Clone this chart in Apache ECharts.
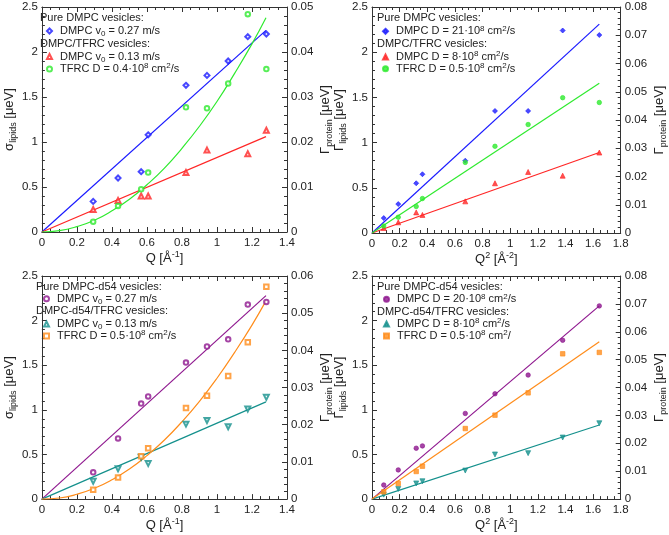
<!DOCTYPE html>
<html><head><meta charset="utf-8">
<script src="https://cdn.jsdelivr.net/npm/echarts@6/dist/echarts.min.js"></script>
<style>html,body{margin:0;padding:0;background:#fff}#c{width:669px;height:535px}</style>
</head><body><div id="c"></div>
<script>
// ---------- data ----------
const Q  = [0.293, 0.435, 0.567, 0.607, 0.823, 0.943, 1.064, 1.176, 1.282];
const Q2 = [0.085, 0.19, 0.32, 0.365, 0.675, 0.89, 1.13, 1.38, 1.645];

// panel 1 (sigma vs Q)
const p1Blue  = [0.34, 0.60, 0.67, 1.08, 1.63, 1.74, 1.90, 2.17, 2.20];
const p1Red   = [0.25, 0.35, 0.40, 0.40, 0.66, 0.91, null, 0.87, 1.13];
const p1Green = [0.0023, 0.0058, 0.0095, 0.0132, 0.0277, 0.0275, 0.0330, 0.0484, 0.0362];
const p1LineX = [0, 1.28];
const p1BlueLine = [0, 2.24];
const p1RedLine  = [0, 1.06];
const curveX = [0, 0.1, 0.2, 0.3, 0.4, 0.5, 0.6, 0.7, 0.8, 0.9, 1.0, 1.1, 1.2, 1.28];
const p1GreenCurve = [0, 0.0003, 0.0012, 0.0026, 0.0047, 0.0073, 0.0105, 0.0142, 0.0186, 0.0235, 0.0290, 0.0352, 0.0418, 0.0476];

// panel 2 (Gamma vs Q^2)
const p2Blue  = [0.165, 0.32, 0.55, 0.65, 0.80, 1.35, 1.35, 2.24, 2.19];
const p2Red   = [0.055, 0.118, 0.228, 0.20, 0.35, 0.55, 0.675, 0.634, 0.89];
const p2Green = [0.0025, 0.0056, 0.0094, 0.0122, 0.0250, 0.0307, 0.0384, 0.0479, 0.0462];
const p2LineX = [0, 1.645];
const p2BlueLine  = [0, 2.31];
const p2RedLine   = [0, 0.89];
const p2GreenLine = [0, 0.053];

// panel 3 (sigma vs Q, d54)
const p3Purple = [0.30, 0.68, 1.07, 1.15, 1.53, 1.71, 1.79, 2.18, 2.21];
const p3Teal   = [0.20, 0.34, 0.47, 0.40, 0.84, 0.88, 0.81, 1.01, 1.14];
const p3Orange = [0.0025, 0.0058, 0.0115, 0.0137, 0.0245, 0.0278, 0.0331, 0.0422, 0.0571];
const p3LineX = [0, 1.28];
const p3PurpleLine = [0, 2.28];
const p3TealLine   = [0, 1.09];
const p3OrangeCurve = [0, 0.0003, 0.0013, 0.0029, 0.0052, 0.0081, 0.0117, 0.0159, 0.0208, 0.0263, 0.0325, 0.0394, 0.0468, 0.0533];

// panel 4 (Gamma vs Q^2, d54)
const p4Purple = [0.158, 0.327, 0.57, 0.596, 0.96, 1.18, 1.39, 1.78, 2.165];
const p4Teal   = [0.05, 0.114, 0.176, 0.20, 0.32, 0.50, 0.515, 0.69, 0.85];
const p4Orange = [0.0026, 0.0056, 0.0099, 0.0118, 0.0253, 0.0301, 0.0381, 0.0521, 0.0526];
const p4LineX = [0, 1.645];
const p4PurpleLine = [0, 2.165];
const p4TealLine   = [0, 0.83];
const p4OrangeLine = [0, 0.0564];

// tick ranges
const xMaxQ = 1.4, xMaxQ2 = 1.8, yLeftMax = 2.5;
const rightMax = [0.05, 0.08, 0.06, 0.08];

// labels
const legendText = {
  p1a: 'DMPC v{sub|0} = 0.27 m/s',
  p1b: 'DMPC v{sub|0} = 0.13 m/s',
  p1c: 'TFRC D = 0.4·10{sup|8} cm{sup|2}/s',
  p2a: 'DMPC D = 21·10{sup|8} cm{sup|2}/s',
  p2b: 'DMPC D = 8·10{sup|8} cm{sup|2}/s',
  p2c: 'TFRC D = 0.5·10{sup|8} cm{sup|2}/s',
  p3a: 'DMPC v{sub|0} = 0.27 m/s',
  p3b: 'DMPC v{sub|0} = 0.13 m/s',
  p3c: 'TFRC D = 0.5·10{sup|8} cm{sup|2}/s',
  p4a: 'DMPC D = 20·10{sup|8} cm{sup|2}/s',
  p4b: 'DMPC D = 8·10{sup|8} cm{sup|2}/s',
  p4c: 'TFRC D = 0.5·10{sup|8} cm{sup|2}/'
};
const headers = [
  ['Pure DMPC vesicles:', 'DMPC/TFRC vesicles:'],
  ['Pure DMPC vesicles:', 'DMPC/TFRC vesicles:'],
  ['Pure DMPC-d54 vesicles:', 'DMPC-d54/TFRC vesicles:'],
  ['Pure DMPC-d54 vesicles:', 'DMPC-d54/TFRC vesicles:']
];
const xNames = ['Q [Å{sup|-1}]', 'Q{sup|2} [Å{sup|-2}]', 'Q [Å{sup|-1}]', 'Q{sup|2} [Å{sup|-2}]'];
const leftNames = ['σ{sub|lipids} [μeV]', 'Γ{sub|lipids} [μeV]', 'σ{sub|lipids} [μeV]', 'Γ{sub|lipids} [μeV]'];
const rightName = 'Γ{sub|protein} [μeV]';

// ---------- layout / style ----------
const FONT = '"Liberation Sans", Arial, sans-serif';
const AX = '#333', TX = '#222';
const C = {blue:'#1a1aff', red:'#ff2626', green:'#2eea2e', purple:'#8e168e', teal:'#14908c', orange:'#ff8c1a'};
const grids = [
  {left:32, top:7, width:255, height:225},
  {left:372, top:7, width:257, height:226},
  {left:32, top:276, width:255, height:227},
  {left:372, top:276, width:257, height:227}
];
const xGap = [17, 16, 17, 15];
const leftGap = [14, 20, 15, 20];
const rightGap = [21, 23, 21, 24];

function rich(base) {
  return {
    sub: {fontSize: Math.round(base*0.72), lineHeight: 10, verticalAlign:'bottom', fontFamily: FONT, color: TX},
    sup: {fontSize: Math.round(base*0.72), lineHeight: 10, verticalAlign:'top', fontFamily: FONT, color: TX}
  };
}
function nameStyle(size) {
  return {fontSize:size, fontFamily:FONT, color:TX, lineHeight:17, rich: rich(size)};
}

const xAxis = [], yAxis = [];
for (let i = 0; i < 4; i++) {
  const xMax = (i % 2 === 0) ? xMaxQ : xMaxQ2;
  const base = {
    type:'value', gridIndex:i, min:0,
    splitLine:{show:false},
    axisLine:{show:true, onZero:false, lineStyle:{color:AX, width:1}},
    axisTick:{show:true, inside:true, length:5, lineStyle:{color:AX}},
    axisLabel:{fontSize:11.5, fontFamily:FONT, color:TX}
  };
  xAxis.push(Object.assign({}, base, {
    max:xMax, interval:0.2, position:'bottom',
    minorTick:{show:true, splitNumber:4, length:3, lineStyle:{color:AX}},
    axisLabel:{fontSize:11.5, fontFamily:FONT, color:TX, margin:5},
    name:xNames[i], nameLocation:'middle', nameGap:xGap[i], nameTextStyle:nameStyle(13)
  }));
  xAxis.push(Object.assign({}, base, {
    max:xMax, interval:0.2, position:'top',
    minorTick:{show:true, splitNumber:4, length:3, lineStyle:{color:AX}},
    axisLabel:{show:false}
  }));
  yAxis.push(Object.assign({}, base, {
    max:yLeftMax, interval:0.5, position:'left',
    minorTick:{show:true, splitNumber:5, length:3, lineStyle:{color:AX}},
    axisLabel:{fontSize:11.5, fontFamily:FONT, color:TX, margin:4},
    name:leftNames[i], nameLocation:'middle', nameGap:leftGap[i], nameTextStyle:nameStyle(13)
  }));
  yAxis.push(Object.assign({}, base, {
    max:rightMax[i], interval:0.01, position:'right',
    minorTick:{show:true, splitNumber:5, length:3, lineStyle:{color:AX}},
    axisLabel:{fontSize:11.5, fontFamily:FONT, color:TX, margin:4},
    name:rightName, nameLocation:'middle', nameGap:rightGap[i], nameTextStyle:nameStyle(13)
  }));
}

function pts(xs, ys) {
  const out = [];
  xs.forEach((x, k) => { if (ys[k] != null) out.push([x, ys[k]]); });
  return out;
}
function scatter(name, panel, right, xs, ys, color, symbol, size, rotate) {
  return {
    type:'scatter', name, xAxisIndex:panel*2, yAxisIndex:panel*2 + (right?1:0),
    data:pts(xs, ys), symbol, symbolSize:size, symbolRotate:rotate||0,
    itemStyle:{color, borderColor:color, borderWidth:0.8}, z:3
  };
}
function line(panel, right, xs, ys, color, smooth) {
  return {
    type:'line', xAxisIndex:panel*2, yAxisIndex:panel*2 + (right?1:0),
    data:pts(xs, ys), showSymbol:false, symbol:'none', smooth:!!smooth,
    lineStyle:{color, width:1.2}, z:2, silent:true
  };
}

const series = [
  line(0, false, p1LineX, p1BlueLine, C.blue),
  line(0, false, p1LineX, p1RedLine, C.red),
  line(0, true, curveX, p1GreenCurve, C.green, true),
  scatter('p1a', 0, false, Q, p1Blue, C.blue, 'emptyDiamond', 5),
  scatter('p1b', 0, false, Q, p1Red, C.red, 'emptyTriangle', 5),
  scatter('p1c', 0, true, Q, p1Green, C.green, 'emptyCircle', 4.5),

  line(1, false, p2LineX, p2BlueLine, C.blue),
  line(1, false, p2LineX, p2RedLine, C.red),
  line(1, true, p2LineX, p2GreenLine, C.green),
  scatter('p2a', 1, false, Q2, p2Blue, C.blue, 'diamond', 5),
  scatter('p2b', 1, false, Q2, p2Red, C.red, 'triangle', 5),
  scatter('p2c', 1, true, Q2, p2Green, C.green, 'circle', 4.5),

  line(2, false, p3LineX, p3PurpleLine, C.purple),
  line(2, false, p3LineX, p3TealLine, C.teal),
  line(2, true, curveX, p3OrangeCurve, C.orange, true),
  scatter('p3a', 2, false, Q, p3Purple, C.purple, 'emptyCircle', 4.5),
  scatter('p3b', 2, false, Q, p3Teal, C.teal, 'emptyTriangle', 5, 180),
  scatter('p3c', 2, true, Q, p3Orange, C.orange, 'emptyRect', 4.5),

  line(3, false, p4LineX, p4PurpleLine, C.purple),
  line(3, false, p4LineX, p4TealLine, C.teal),
  line(3, true, p4LineX, p4OrangeLine, C.orange),
  scatter('p4a', 3, false, Q2, p4Purple, C.purple, 'circle', 4.5),
  scatter('p4b', 3, false, Q2, p4Teal, C.teal, 'triangle', 5, 180),
  scatter('p4c', 3, true, Q2, p4Orange, C.orange, 'rect', 4.5)
];

// legend / header placement (text left x, centre y)
const legendPos = [
  {textX:59, head:[[40,17.5],[40,44]], items:[31, 56.5, 69]},
  {textX:395, head:[[377,18],[377,44.3]], items:[31.3, 57, 68.8]},
  {textX:56, head:[[36,286.7],[36,311]], items:[298.7, 324, 336]},
  {textX:396, head:[[377,287.3],[377,311.7]], items:[299.3, 324, 336]}
];
const legend = [], graphic = [];
const tags = ['a','b','c'];
const ICON = 5, TXTPAD = 3;
legendPos.forEach((p, i) => {
  p.head.forEach((h, k) => {
    graphic.push({type:'text', x:h[0], y:h[1], silent:true,
      style:{text:headers[i][k], fontSize:11, fontFamily:FONT, fill:TX, verticalAlign:'middle', textVerticalAlign:'middle'}});
  });
  p.items.forEach((cy, k) => {
    legend.push({
      data:['p' + (i+1) + tags[k]], left:p.textX - (ICON + 5 + TXTPAD), top:cy - 7,
      padding:0, itemWidth:ICON, itemHeight:ICON, selectedMode:false,
      formatter:(n) => legendText[n],
      textStyle:{fontSize:11, fontFamily:FONT, color:TX, lineHeight:14, padding:[0,0,0,TXTPAD], rich:rich(11)}
    });
  });
});

const chart = echarts.init(document.getElementById('c'), null, {renderer:'canvas'});
chart.setOption({
  animation:false, backgroundColor:'#fff',
  grid:grids.map(g => Object.assign({containLabel:false}, g)),
  xAxis, yAxis, series, legend, graphic
});
</script></body></html>
